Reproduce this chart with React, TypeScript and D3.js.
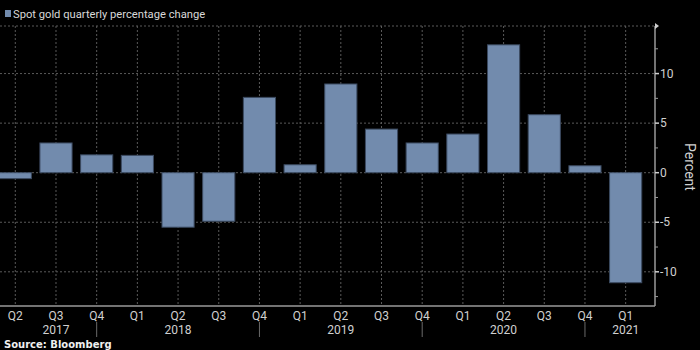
import React from "react";
import * as d3 from "d3";

const quarters = ["Q2", "Q3", "Q4", "Q1", "Q2", "Q3", "Q4", "Q1", "Q2", "Q3", "Q4", "Q1", "Q2", "Q3", "Q4", "Q1"];
const years = ["2017", "2017", "2017", "2018", "2018", "2018", "2018", "2019", "2019", "2019", "2019", "2020", "2020", "2020", "2020", "2021"];
const changes = [-0.6, 3.0, 1.8, 1.75, -5.5, -4.9, 7.6, 0.8, 8.95, 4.4, 3.0, 3.9, 12.9, 5.85, 0.7, -11.1];
const yearLabels = [
  { year: "2017", at: 1 },
  { year: "2018", at: 4 },
  { year: "2019", at: 8 },
  { year: "2020", at: 12 },
  { year: "2021", at: 15 },
];
const yearSeparators = [2, 6, 10, 14];
const majorTicks = [-10, -5, 0, 5, 10];
const minorTicks = [-12.5, -7.5, -2.5, 2.5, 7.5, 12.5];

const W = 700;
const H = 350;
const PLOT = { top: 26, bottom: 306, right: 655 };
const FONT = "Roboto, 'Liberation Sans', sans-serif";
const BAR = "#728bad";

export default function App() {
  const keys = quarters.map((q, i) => `${q}-${years[i]}-${i}`);
  const x = d3.scaleBand<string>().domain(keys).range([-5.05, 646]).paddingInner(0.21).paddingOuter(0.105);
  const y = d3.scaleLinear().domain([-13.45, 14.8]).range([PLOT.bottom, PLOT.top]);
  const cx = (i: number) => (x(keys[i]) as number) + x.bandwidth() / 2;

  return (
    <svg
      width={W}
      height={H}
      style={{ position: "absolute", left: 0, top: 0, background: "#000", fontFamily: FONT }}
    >
      <rect x={0} y={0} width={W} height={H} fill="#000" />

      {/* legend */}
      <rect x={5} y={10} width={6} height={7} fill={BAR} />
      <text x={13} y={18} fill="#d8d8d8" fontSize={11.2}>
        Spot gold quarterly percentage change
      </text>

      {/* grid */}
      {[...majorTicks, 14.8].map((v) => (
        <line
          key={`h${v}`}
          x1={0}
          x2={PLOT.right}
          y1={y(v)}
          y2={y(v)}
          stroke="#5a5a5a"
          strokeDasharray="2 2"
        />
      ))}
      {keys.map((k, i) => (
        <line
          key={`v${k}`}
          x1={cx(i)}
          x2={cx(i)}
          y1={PLOT.top}
          y2={PLOT.bottom}
          stroke="#5a5a5a"
          strokeDasharray="2 2"
        />
      ))}

      {/* bars */}
      {changes.map((v, i) => (
        <rect
          key={keys[i]}
          x={x(keys[i])}
          y={y(Math.max(0, v))}
          width={x.bandwidth()}
          height={Math.abs(y(v) - y(0))}
          fill={BAR}
          stroke="#3b4a60"
          strokeWidth={1}
        />
      ))}

      {/* y axis */}
      <line x1={PLOT.right} x2={PLOT.right} y1={PLOT.top} y2={PLOT.bottom} stroke="#9a9a9a" strokeWidth={1.5} />
      <path d={`M${PLOT.right},${PLOT.top - 3} l4,3 l-4,3 z`} fill="#cfcfcf" />
      {majorTicks.map((v) => (
        <g key={`yt${v}`}>
          <line x1={PLOT.right} x2={PLOT.right + 4} y1={y(v)} y2={y(v)} stroke="#cfcfcf" strokeWidth={1.5} />
          <text x={PLOT.right + 5} y={y(v)} dy="0.35em" fill="#d0d0d0" fontSize={12}>
            {v < 0 ? `-${Math.abs(v)}` : v}
          </text>
        </g>
      ))}
      {minorTicks.map((v) => (
        <line key={`ym${v}`} x1={PLOT.right} x2={PLOT.right + 3} y1={y(v)} y2={y(v)} stroke="#9a9a9a" />
      ))}
      <text
        transform={`translate(${685},${167}) rotate(90)`}
        textAnchor="middle"
        fill="#d0d0d0"
        fontSize={14}
      >
        Percent
      </text>

      {/* x axis */}
      <line x1={0} x2={PLOT.right} y1={PLOT.bottom} y2={PLOT.bottom} stroke="#9a9a9a" strokeWidth={1.5} />
      {quarters.map((q, i) => (
        <text key={`q${keys[i]}`} x={cx(i)} y={320} textAnchor="middle" fill="#d0d0d0" fontSize={12}>
          {q}
        </text>
      ))}
      {yearLabels.map((d) => (
        <text key={d.year} x={cx(d.at)} y={334} textAnchor="middle" fill="#d0d0d0" fontSize={12}>
          {d.year}
        </text>
      ))}
      {yearSeparators.map((i) => (
        <line key={`sep${i}`} x1={cx(i)} x2={cx(i)} y1={322} y2={337} stroke="#6a6a6a" />
      ))}

      <text x={4} y={348} fill="#f0f0f0" fontSize={10} fontWeight="bold" fontFamily="'DejaVu Sans', sans-serif">
        Source: Bloomberg
      </text>
    </svg>
  );
}
